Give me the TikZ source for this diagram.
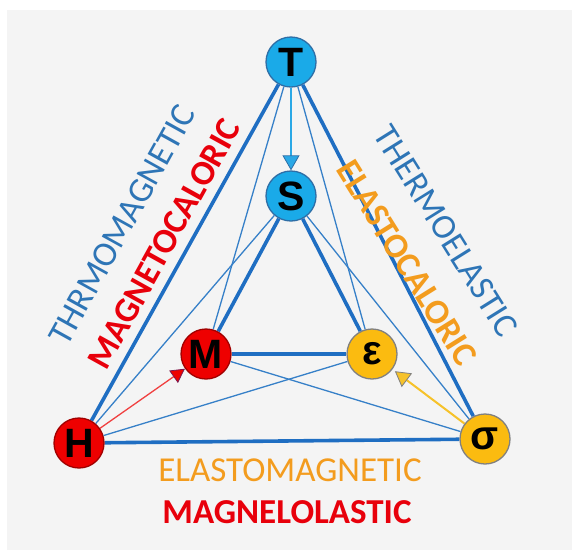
\documentclass[tikz,border=0pt]{standalone}
\usepackage{fontspec}
\setmainfont{Carlito}
\newfontfamily\lsans{Liberation Sans}
\usetikzlibrary{arrows.meta}
\definecolor{bgc}{HTML}{F4F4F4}
\definecolor{edgec}{HTML}{1F6EC2}
\definecolor{thinc}{HTML}{3680C8}
\definecolor{nblue}{HTML}{1AAAE8}
\definecolor{nbluebd}{HTML}{2E6EA6}
\definecolor{nred}{HTML}{EE0000}
\definecolor{nredbd}{HTML}{A00000}
\definecolor{ngold}{HTML}{FBBB10}
\definecolor{ngoldbd}{HTML}{808080}
\definecolor{tblue}{HTML}{2E75B6}
\definecolor{tred}{HTML}{E8000B}
\definecolor{torange}{HTML}{F39C1E}
\definecolor{arrblue}{HTML}{2AA8E6}
\definecolor{arrred}{HTML}{F04040}
\definecolor{arrredbd}{HTML}{7A1A50}
\definecolor{arrgold}{HTML}{F6C22A}
\pgfdeclarelayer{bglayer}
\pgfdeclarelayer{edgelayer}
\pgfsetlayers{bglayer,edgelayer,main}
\tikzset{
  varnode/.style={circle, minimum size=50pt, inner sep=0pt, line width=1.3pt,
    font=\lsans\bfseries\fontsize{41}{41}\selectfont, text=black},
  bluenode/.style={varnode, fill=nblue, draw=nbluebd},
  rednode/.style={varnode, fill=nred, draw=nredbd},
  goldnode/.style={varnode, fill=ngold, draw=ngoldbd},
  thickedge/.style={draw=edgec, line width=3.6pt},
  thinedge/.style={draw=thinc, line width=1.3pt},
  lbl/.style={font=\fontsize{35}{35}\selectfont, inner sep=0pt},
  blbl/.style={font=\bfseries\fontsize{35}{35}\selectfont, inner sep=0pt},
}
\begin{document}
\begin{tikzpicture}[x=1pt,y=-1pt]
\useasboundingbox (0,0) rectangle (572,550);
\begin{pgfonlayer}{bglayer}
\fill[bgc] (7,10) rectangle (572,550);
\end{pgfonlayer}
\node[bluenode] (T) at (291,62) {T};
\node[bluenode] (S) at (291,196) {S};
\node[rednode] (M) at (206,354) {M};
\node[goldnode] (E) at (372,354) {ε};
\node[rednode] (H) at (79,443) {H};
\node[goldnode] (G) at (485,439) {σ};
\begin{pgfonlayer}{edgelayer}
\draw[thickedge] (T) -- (H);
\draw[thickedge] (T) -- (G);
\draw[thickedge] (H) -- (G);
\draw[thickedge] (S) -- (M);
\draw[thickedge] (S) -- (E);
\draw[thickedge] (M) -- (E);
\draw[thinedge] (T) -- (M);
\draw[thinedge] (T) -- (E);
\draw[thinedge] (S) -- (H);
\draw[thinedge] (S) -- (G);
\draw[thinedge] (M) -- (G);
\draw[thinedge] (E) -- (H);
\draw[draw=arrblue, line width=1.8pt, -{Triangle[width=17pt,length=15pt,fill=arrblue,color=nbluebd,line width=0.8pt]}] (T) -- (S);
\draw[draw=arrred, line width=1.3pt, -{Triangle[width=15pt,length=14pt,fill=nred,color=arrredbd,line width=0.8pt]}] (H) -- (M);
\draw[draw=arrgold, line width=2pt, shorten >=3pt, -{Triangle[width=17pt,length=15pt,fill=arrgold,color=ngoldbd,line width=0.8pt]}] (G) -- (E);
\end{pgfonlayer}
\node[lbl, text=tblue, rotate=61] (l1) at (122,225) {THRMOMAGNETIC};
\node[blbl, text=tred, rotate=61] (l2) at (164,244) {MAGNETOCALORIC};
\node[lbl, text=tblue, rotate=-58] (l3) at (446,231) {THERMOELASTIC};
\node[blbl, text=torange, rotate=-58] (l4) at (407,263) {ELASTOCALORIC};
\node[lbl, text=torange] (l5) at (290,470) {ELASTOMAGNETIC};
\node[blbl, text=tred] (l6) at (287,512) {MAGNELOLASTIC};
\end{tikzpicture}
\end{document}
